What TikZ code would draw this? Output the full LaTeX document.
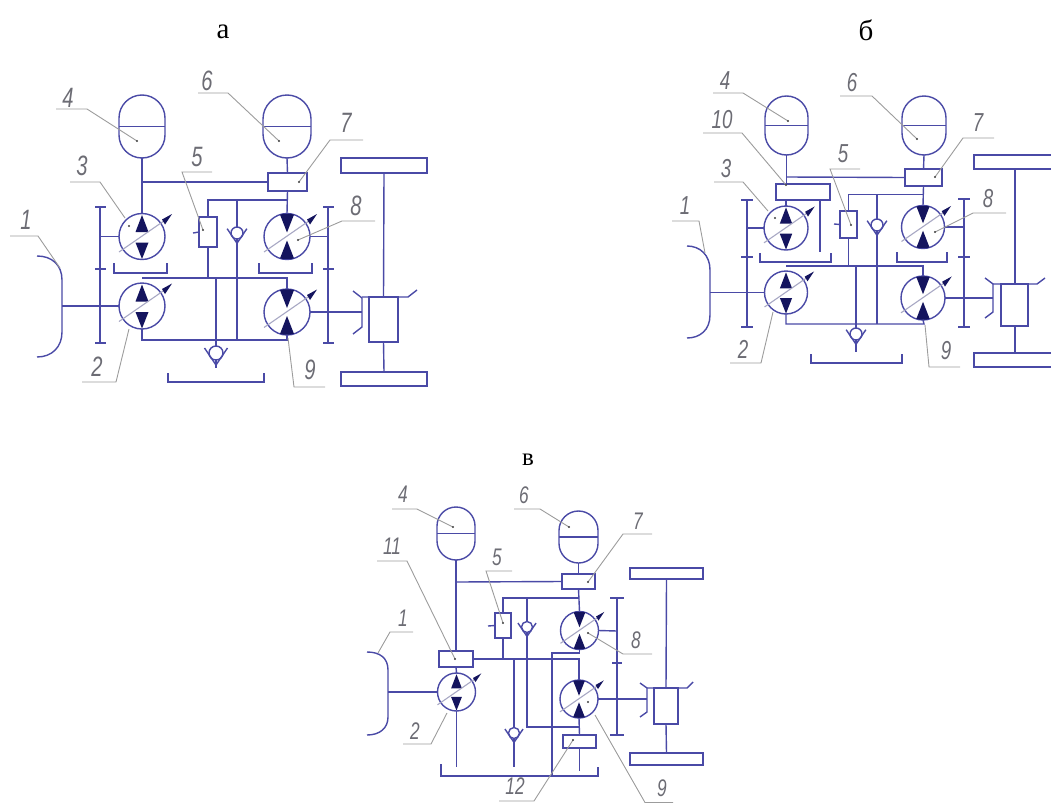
\documentclass[tikz,border=0pt]{standalone}
\usepackage{fontspec}
\setmainfont{Liberation Serif}
\newfontfamily\labfam{Liberation Sans}
\definecolor{ln}{HTML}{4A4AA6}
\definecolor{dk}{HTML}{14145E}
\definecolor{ld}{HTML}{9C9C9C}
\definecolor{lt}{HTML}{6C6C74}
\definecolor{pl}{HTML}{A8A8C4}
\tikzset{
 ln/.style={draw=ln,line width=1.4pt},
 pumpc/.style={ln,circle,fill=white,inner sep=0pt,outer sep=0pt},
 boxn/.style={ln,rectangle,fill=white,inner sep=0pt,outer sep=0pt},
 accn/.style={ln,rectangle,fill=white,inner sep=0pt,outer sep=0pt},
 chk/.style={ln,circle,fill=white,inner sep=0pt,outer sep=0pt},
 leaderl/.style={draw=ld,line width=0.9pt},
 headtxt/.style={inner sep=0pt,text=black}
}
\def\labsize{22}
\newcommand{\pumpA}[4]{%
 \node[pumpc,minimum size=#4*2pt] (#1) at (#2,#3) {};
 \begin{scope}[shift={(#2,#3)},scale=#4/23]
  \fill[dk] (0,-21.5)--(-6.5,-4.5)--(6.5,-4.5)--cycle;
  \fill[dk] (0,22.5)--(-6.5,6)--(6.5,6)--cycle;
  \draw[pl,line width=1.1pt] (-23,15.5)--(24,-17);
  \fill[dk] (30,-22.5)--(20,-17)--(23,-12)--cycle;
 \end{scope}}
\newcommand{\pumpM}[4]{%
 \node[pumpc,minimum size=#4*2pt] (#1) at (#2,#3) {};
 \begin{scope}[shift={(#2,#3)},scale=#4/23]
  \fill[dk] (0,-4)--(-7,-21.9) .. controls (-3,-23) and (3,-23) .. (7,-21.9)--cycle;
  \fill[dk] (0,4)--(-7,21.9) .. controls (-3,23) and (3,23) .. (7,21.9)--cycle;
  \draw[pl,line width=1.1pt] (-23,15.5)--(24,-17);
  \fill[dk] (30,-22.5)--(20,-17)--(23,-12)--cycle;
 \end{scope}}
\newcommand{\accum}[6]{% name x y w h : semicircular ends
 \node[accn,minimum width=#4pt,minimum height=#5pt,rounded corners=#6pt] (#1) at (#2,#3) {};
 \draw[ln] (#1.west)--(#1.east);}
\newcommand{\boxx}[5]{\node[boxn,minimum width=#4pt,minimum height=#5pt] (#1) at (#2,#3) {};}
\newcommand{\checkv}[4]{% name x y r
 \node[chk,minimum size=#4*2pt] (#1) at (#2,#3) {};
 \begin{scope}[shift={(#2,#3)},scale=#4/7]
  \draw[ln] (-11.5,-5)--(0,12)--(11.5,-5);
 \end{scope}}
\newcommand{\leader}[6]{% name text textpos p1 p2 p3
 \node[inner sep=0pt,text=lt,yshift=2pt] (l#1) at (#3) {\fontsize{\labsize}{\labsize}\labfam\itshape\scalebox{0.72}[1]{#2}};
 \coordinate (l#1a) at (#4); \coordinate (l#1b) at (#5); \coordinate (l#1c) at (#6);
 \draw[leaderl] (l#1a)--(l#1b)--(l#1c);}
\newcommand{\dott}[1]{\fill[black!75] (#1) circle (1.1pt);}
\begin{document}
\begin{tikzpicture}[x=1pt,y=-1pt]
\useasboundingbox (0,0) rectangle (1051,803);
\node[headtxt] (ha) at (223,32) {\fontsize{29}{29}\selectfont а};
\node[headtxt] (hb) at (866,30) {\fontsize{29}{29}\selectfont б};
\node[headtxt] (hc) at (528,460) {\fontsize{25}{25}\selectfont в};

%% ================ panel a
\accum{a4}{142}{126.5}{46}{63}{23}
\accum{a6}{287}{126.5}{48}{63}{24}
\boxx{a7}{287.5}{182}{39}{18}
\pumpA{a3}{142}{236.5}{23}
\pumpA{a2}{142}{306}{23}
\pumpM{a8}{287}{236.5}{23}
\pumpM{a9}{287}{312}{23}
\boxx{a5}{208}{232}{18}{30}
\checkv{av1}{237}{233}{6}
\checkv{av2}{216}{353}{7}
\boxx{ad}{383.5}{319.5}{29}{45}
\boxx{aw1}{384}{165.5}{86}{15}
\boxx{aw2}{384}{379}{86}{14}
\draw[ln] (a4.south)--(a3.north);
\draw[ln] (142,182)--(a7.west);
\draw[ln] (a6.south)--(a7.north);
\draw[ln] (a7.south)--(a8.north);
\draw[ln] (a5.north)--(208,200)--(287.5,200);
\draw[ln] (a5.south)--(208,278);
\draw[ln] (193,233)--(a5.west);
\draw[ln] (142,278)--(287,278)--(a9.north);
\draw[ln] (a2.south)--(142,340)--(287,340)--(a9.south);
\draw[ln] (237,200)--(av1.north);
\draw[ln] (av1.south)--(237,340);
\draw[ln] (216,278)--(av2.north);
\draw[ln] (av2.south)--(216,368);
\draw[ln] (114,263)--(114,273)--(167,273)--(167,263);
\draw[ln] (259,263)--(259,273)--(312,273)--(312,263);
\draw[ln] (168,373)--(168,382)--(264,382)--(264,373);
\draw[ln] (37,256) .. controls (52,256) and (62,265) .. (62,280)--(62,332) .. controls (62,347) and (52,357) .. (37,357);
\draw[ln] (62,306)--(a2.west);
\draw[ln] (100,207)--(100,343);
\draw[ln] (95,207)--(106,207) (95,269)--(106,269) (95,343)--(106,343);
\draw[ln] (a3.west)--(100,236.5);
\draw[ln] (328,207)--(328,343);
\draw[ln] (323,207)--(334,207) (323,269)--(334,269) (323,343)--(334,343);
\draw[ln] (a8.east)--(328,236.5);
\draw[ln] (a9.east)--(362,312);
\draw[ln] (353,291)--(362,298)--(362,327)--(353,334);
\draw[ln] (362,297)--(408,297)--(417,290);
\draw[ln] (aw1.south)--(ad.north);
\draw[ln] (ad.south)--(aw2.north);
\def\labsize{28}
\leader{a-4}{4}{68,100}{56,109}{87,109}{137,141}\dott{137,141}
\leader{a-3}{3}{82,168}{70,182}{100,182}{125,218}\dott{129,226}
\leader{a-5}{5}{197,159}{212,172}{182,172}{203,230}\dott{203,230}
\leader{a-1}{1}{26,222}{10,236}{38,236}{60,268}
\leader{a-6}{6}{207,83}{198,93}{228,93}{279,141}\dott{279,141}
\leader{a-7}{7}{346,125}{363,140}{330,140}{299,182}\dott{299,182}
\leader{a-8}{8}{356,208}{375,221}{342,221}{298,240}\dott{298,240}
\leader{a-2}{2}{97,369}{82,382}{116,382}{129,329}
\leader{a-9}{9}{310,372}{325,387}{294,387}{288,338}

%% ================ panel b
\accum{b4}{786.5}{125.5}{43}{59}{21.5}
\accum{b6}{924}{125.5}{44}{59}{22}
\boxx{b10}{803}{192}{54}{16}
\boxx{b7}{923.5}{177.5}{37}{17}
\pumpA{b3}{786}{228}{22}
\pumpA{b2}{786}{292.5}{21.5}
\pumpM{b8}{923}{227}{21.5}
\pumpM{b9}{923}{298}{22}
\boxx{b5}{848.5}{224.5}{17}{27}
\checkv{bv1}{877}{225}{6}
\checkv{bv2}{856}{334}{6}
\boxx{bd}{1014.5}{305}{27}{42}
\draw[ln] (1052,155)--(974,155)--(974,169)--(1052,169);
\draw[ln] (1052,353)--(974,353)--(974,367)--(1052,367);
\draw[ln] (b4.south)--(786.5,184);
\draw[ln] (786.5,177)--(b7.west);
\draw[ln] (b6.south)--(b7.north);
\draw[ln] (b7.south)--(b8.north);
\draw[ln] (786,200)--(b3.north);
\draw[ln] (820,200)--(820,252);
\draw[ln] (b5.north)--(848.5,194.5)--(923.5,194.5);
\draw[ln] (b5.south)--(848.5,266);
\draw[ln] (834,224)--(b5.west);
\draw[ln] (786,266)--(923,266)--(b9.north);
\draw[ln] (b2.south)--(786,324)--(924,324)--(b9.south);
\draw[ln] (877,194.5)--(bv1.north);
\draw[ln] (bv1.south)--(877,324);
\draw[ln] (856,266)--(bv2.north);
\draw[ln] (bv2.south)--(856,352);
\draw[ln] (760,253)--(760,262)--(831,262)--(831,253);
\draw[ln] (897,252)--(897,262)--(947,262)--(947,252);
\draw[ln] (811,354)--(811,363)--(902,363)--(902,354);
\draw[ln] (687,246) .. controls (700,246) and (710,255) .. (710,270)--(710,315) .. controls (710,330) and (700,338) .. (687,338);
\draw[ln] (710,292.5)--(b2.west);
\draw[ln] (747,200)--(747,327);
\draw[ln] (741,200)--(753,200) (741,257)--(753,257) (741,327)--(753,327);
\draw[ln] (b3.west)--(747,228);
\draw[ln] (964,199)--(964,327);
\draw[ln] (958,199)--(970,199) (958,257)--(970,257) (958,327)--(970,327);
\draw[ln] (b8.east)--(964,227);
\draw[ln] (b9.east)--(993,298);
\draw[ln] (985,278)--(993,284)--(993,312)--(985,318);
\draw[ln] (993,284)--(1037,284)--(1045,278);
\draw[ln] (1015,169)--(1015,284);
\draw[ln] (1015,326)--(1015,353);
\def\labsize{26}
\leader{b-4}{4}{725,83}{713,93}{743,93}{788,121}\dott{788,121}
\leader{b-10}{10}{722,122}{703,133}{742,133}{786,185}\dott{786,185}
\leader{b-3}{3}{726,171}{714,182}{743,182}{768,211}\dott{775,218}
\leader{b-5}{5}{843,156}{860,169}{830,169}{851,225}\dott{851,225}
\leader{b-1}{1}{685,208}{672,221}{699,221}{705,253}
\leader{b-6}{6}{852,85}{840,96}{872,96}{917,139}\dott{917,139}
\leader{b-7}{7}{978,125}{994,138}{963,138}{935,177}\dott{935,177}
\leader{b-8}{8}{988,201}{1006,213}{973,213}{935,232}\dott{935,232}
\leader{b-2}{2}{743,351}{730,363}{761,363}{773,312}
\leader{b-9}{9}{946,353}{960,367}{929,367}{925,325}

%% ================ panel c
\accum{c4}{456}{533.5}{38}{53}{19}
\accum{c6}{578.5}{537}{39}{52}{19.5}
\boxx{c11}{456}{659}{34}{16}
\boxx{c7}{578.5}{581.5}{33}{15}
\pumpA{c2}{456.5}{692}{19}
\pumpM{c8}{579.5}{630.5}{19}
\pumpM{c9}{579}{699}{19}
\boxx{c5}{503}{625.5}{16}{25}
\boxx{c12}{579.5}{741.5}{33}{13}
\checkv{cv1}{527}{627}{5.5}
\checkv{cv2}{514}{733}{5.5}
\boxx{cd}{666}{706}{24}{36}
\boxx{cw1}{666.5}{573.5}{73}{11}
\boxx{cw2}{666.5}{759}{73}{12}
\draw[ln] (c4.south)--(c11.north);
\draw[ln] (456,582)--(c7.west);
\draw[ln] (c6.south)--(c7.north);
\draw[ln] (c7.south)--(c8.north);
\draw[ln] (c11.south)--(c2.north);
\draw[ln] (c2.south)--(456.5,767);
\draw[ln] (c11.east)--(579,659)--(c9.north);
\draw[ln] (c8.south)--(579.5,653)--(552,653)--(552,775);
\draw[ln] (c5.north)--(503,598)--(579,598);
\draw[ln] (c5.south)--(503,659);
\draw[ln] (488,626)--(c5.west);
\draw[ln] (527,598)--(cv1.north);
\draw[ln] (cv1.south)--(527,727)--(579,727);
\draw[ln] (c9.south)--(c12.north);
\draw[ln] (c12.south)--(579.5,771);
\draw[ln] (514,659)--(cv2.north);
\draw[ln] (cv2.south)--(514,767);
\draw[ln] (441,764)--(441,776)--(598,776)--(598,767);
\draw[ln] (367,652) .. controls (380,652) and (388,658) .. (388,670)--(388,717) .. controls (388,728) and (380,735) .. (367,735);
\draw[ln] (388,692)--(c2.west);
\draw[ln] (617,598)--(617,735);
\draw[ln] (610,598)--(624,598) (612,663)--(622,663) (610,735)--(624,735);
\draw[ln] (c8.east)--(617,631);
\draw[ln] (c9.east)--(647,699);
\draw[ln] (640,683)--(647,688)--(647,712)--(640,717);
\draw[ln] (647,688)--(687,688)--(693,682);
\draw[ln] (cw1.south)--(cd.north);
\draw[ln] (cd.south)--(cw2.north);
\def\labsize{24}
\leader{c-4}{4}{403,496}{392,509}{417,509}{453,527}\dott{453,527}
\leader{c-6}{6}{524,497}{514,509}{540,509}{569,527}\dott{569,527}
\leader{c-7}{7}{638,523}{652,534}{623,534}{588,582}\dott{588,582}
\leader{c-8}{8}{636,642}{652,654}{623,654}{588,633}\dott{588,633}
\leader{c-9}{9}{662,790}{673,802.5}{645,802.5}{595,715}\dott{588,702}
\leader{c-11}{11}{392,548}{377,561}{407,561}{455,659}\dott{455,659}
\leader{c-5}{5}{497,559}{512,571}{486,571}{503,623}\dott{503,623}
\leader{c-1}{1}{403,620}{413,632}{390,632}{378,653}
\leader{c-2}{2}{415,733}{403,744}{431,744}{447,713}
\leader{c-12}{12}{515,788}{499,801}{534,801}{573,740}\dott{573,740}
\end{tikzpicture}
\end{document}
